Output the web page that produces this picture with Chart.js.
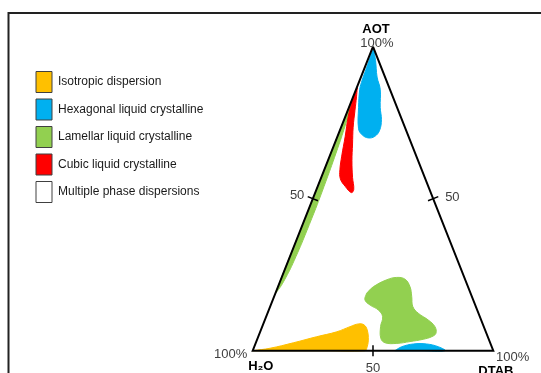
<!DOCTYPE html>
<html>
<head>
<meta charset="utf-8">
<script src="https://cdn.jsdelivr.net/npm/chart.js@4"></script>
<style>
  html, body { margin: 0; padding: 0; background: #fff; }
  canvas { display: block; }
</style>
</head>
<body>
<canvas id="phaseChart" width="541" height="373"></canvas>
<script>
// region outlines, every point is [AOT %, DTAB %] (water is the rest)
const isotropic = [[0, 0], [0.8, 6.8], [2.6, 15.6], [4.6, 24.3], [6.2, 31.8], [7.9, 36.5], [8.8, 39.5], [8.5, 42], [6.8, 44.2], [3.5, 46.3], [0.8, 47], [0, 46.7], [0, 30], [0, 15]];
const hexagonalTop = [[99.5, 0.4], [95.5, 3.3], [90, 6.7], [86, 10], [80, 13], [76, 15.5], [72.5, 16.5], [70.5, 15.5], [70, 13], [71, 10], [73, 7.5], [80, 4], [86, 1.5], [89, 1], [93, 0.8], [98, 0.5]];
const hexagonalBottom = [[0, 59.1], [1.3, 61.3], [2.2, 65.7], [2.2, 71.2], [1.3, 76.5], [0, 79.9], [0, 70]];
const lamellarStrip = [[84, 0], [60, 0], [40, 0], [19, 0], [21.5, 1.2], [27, 2.2], [35, 2.7], [48, 2.8], [60, 2.4], [70, 1.8], [78, 1.0]];
const lamellarBlob = [[18.9, 37.9], [21, 39.6], [23.3, 44], [24.1, 47.8], [23.5, 51.6], [21, 54.9], [17.8, 57.2], [14.5, 59.3], [12.3, 62.7], [10.1, 67.9], [7.9, 71.8], [5.7, 73.3], [4.6, 72.1], [3.75, 69], [3, 63.9], [2.4, 58.7], [2.6, 53.7], [4.1, 51.2], [7.9, 49.2], [11.2, 48.4], [13.4, 45.5], [15, 41.3], [16.7, 38.3]];
const cubic = [[86.5, 0.2], [83.5, 1.4], [79, 3], [73.5, 5], [68, 7.5], [62.5, 10], [57, 13], [53, 15.5], [52, 15], [54, 11.5], [56.5, 8.2], [59.5, 6.5], [64, 5], [70.5, 3.2], [77, 1.2], [81.5, 0.4], [85, 0.3]];

const phaseNames = ['Isotropic dispersion', 'Hexagonal liquid crystalline', 'Lamellar liquid crystalline', 'Cubic liquid crystalline', 'Multiple phase dispersions'];
const phaseColors = ['#FFC000', '#00B0F0', '#92D050', '#FF0000', '#FFFFFF'];
const cornerNames = ['AOT', 'H\u2082O', 'DTAB'];
const cornerLabel = '100%';
const edgeTicks = [50];

// ternary -> cartesian, triangle is (0,0) (100,0) (50,100)
const toXY = ([aot, dtab]) => ({ x: dtab + aot / 2, y: aot });
const closed = (pts) => pts.concat([pts[0]]).map(toXY);

const region = (pts, color, tension) => ({
  data: closed(pts),
  showLine: true,
  fill: 'shape',
  backgroundColor: color,
  borderColor: color,
  borderWidth: 1,
  pointRadius: 0,
  tension: tension,
  clip: false,
});

const ternaryDecor = {
  id: 'ternaryDecor',
  beforeDraw(chart) {
    const ctx = chart.ctx;
    ctx.save();
    ctx.fillStyle = '#fff';
    ctx.fillRect(0, 0, chart.width, chart.height);
    ctx.strokeStyle = '#222';
    ctx.lineWidth = 2;
    ctx.strokeRect(8.5, 13, chart.width, chart.height);
    ctx.restore();
  },
  afterDatasetsDraw(chart) {
    const { ctx, scales: { x, y } } = chart;
    const pix = (p) => {
      const q = toXY(p);
      return { x: x.getPixelForValue(q.x), y: y.getPixelForValue(q.y) };
    };
    const top = pix([100, 0]);
    const left = pix([0, 0]);
    const right = pix([0, 100]);

    ctx.save();
    ctx.textBaseline = 'middle';

    ctx.fillStyle = '#000';
    ctx.font = 'bold 13px "Liberation Sans", sans-serif';
    ctx.textAlign = 'center';
    ctx.fillText(cornerNames[0], top.x + 3, top.y - 17);
    ctx.textAlign = 'left';
    ctx.fillText(cornerNames[1], left.x - 4.5, left.y + 16);
    ctx.fillText(cornerNames[2], right.x - 15, right.y + 20.5);

    ctx.fillStyle = '#404040';
    ctx.font = '13px "Liberation Sans", sans-serif';
    ctx.textAlign = 'center';
    ctx.fillText(cornerLabel, top.x + 4, top.y - 3.5);
    ctx.textAlign = 'right';
    ctx.fillText(cornerLabel, left.x - 5.5, left.y + 3.6);
    ctx.textAlign = 'left';
    ctx.fillText(cornerLabel, right.x + 2.7, right.y + 6.6);

    edgeTicks.forEach((t) => {
      const edges = [
        { at: [t, 0], a: left, b: top, dx: -8.5, dy: -3.7, align: 'right' },
        { at: [100 - t, t], a: top, b: right, dx: 12, dy: -1.4, align: 'left' },
        { at: [0, t], a: left, b: right, dx: 0, dy: 17.6, align: 'center' },
      ];
      edges.forEach((e) => {
        const p = pix(e.at);
        const len = Math.hypot(e.b.x - e.a.x, e.b.y - e.a.y);
        const nx = -(e.b.y - e.a.y) / len;
        const ny = (e.b.x - e.a.x) / len;
        ctx.strokeStyle = '#000';
        ctx.lineWidth = 1.5;
        ctx.beginPath();
        ctx.moveTo(p.x - nx * 5.5, p.y - ny * 5.5);
        ctx.lineTo(p.x + nx * 5.5, p.y + ny * 5.5);
        ctx.stroke();
        ctx.fillStyle = '#404040';
        ctx.textAlign = e.align;
        ctx.fillText(String(t), p.x + e.dx, p.y + e.dy);
      });
    });
    ctx.restore();
  },
};

new Chart(document.getElementById('phaseChart'), {
  type: 'scatter',
  data: {
    datasets: [
      {
        data: closed([[100, 0], [0, 0], [0, 100]]),
        showLine: true,
        fill: false,
        borderColor: '#000',
        borderWidth: 2,
        pointRadius: 0,
        tension: 0,
        clip: false,
      },
      region(cubic, phaseColors[3], 0.4),
      region(hexagonalTop, phaseColors[1], 0.4),
      region(hexagonalBottom, phaseColors[1], 0.4),
      region(isotropic, phaseColors[0], 0.4),
      region(lamellarStrip, phaseColors[2], 0.2),
      region(lamellarBlob, phaseColors[2], 0.4),
    ],
  },
  options: {
    responsive: false,
    animation: false,
    events: [],
    layout: { padding: { left: 29.5, top: 0, right: 0, bottom: 0 } },
    scales: {
      x: { type: 'linear', display: false, min: -92.77, max: 119.83 },
      y: { type: 'linear', display: false, min: -7.34, max: 115.36 },
    },
    plugins: {
      tooltip: { enabled: false },
      legend: {
        position: 'chartArea',
        align: 'start',
        title: { display: true, text: '', padding: { top: 60, bottom: 0 }, font: { size: 5, lineHeight: 1 } },
        labels: {
          boxWidth: 16,
          boxHeight: 21,
          padding: 6.5,
          color: '#1a1a1a',
          font: { family: "'Liberation Sans Narrow', 'Arial Narrow', 'Liberation Sans', sans-serif", size: 12 },
          generateLabels: () => phaseNames.map((name, i) => ({
            text: name,
            fillStyle: phaseColors[i],
            strokeStyle: '#404040',
            fontColor: '#1a1a1a',
            lineWidth: 1,
            hidden: false,
            datasetIndex: i,
          })),
        },
      },
    },
  },
  plugins: [ternaryDecor],
});
</script>
</body>
</html>
